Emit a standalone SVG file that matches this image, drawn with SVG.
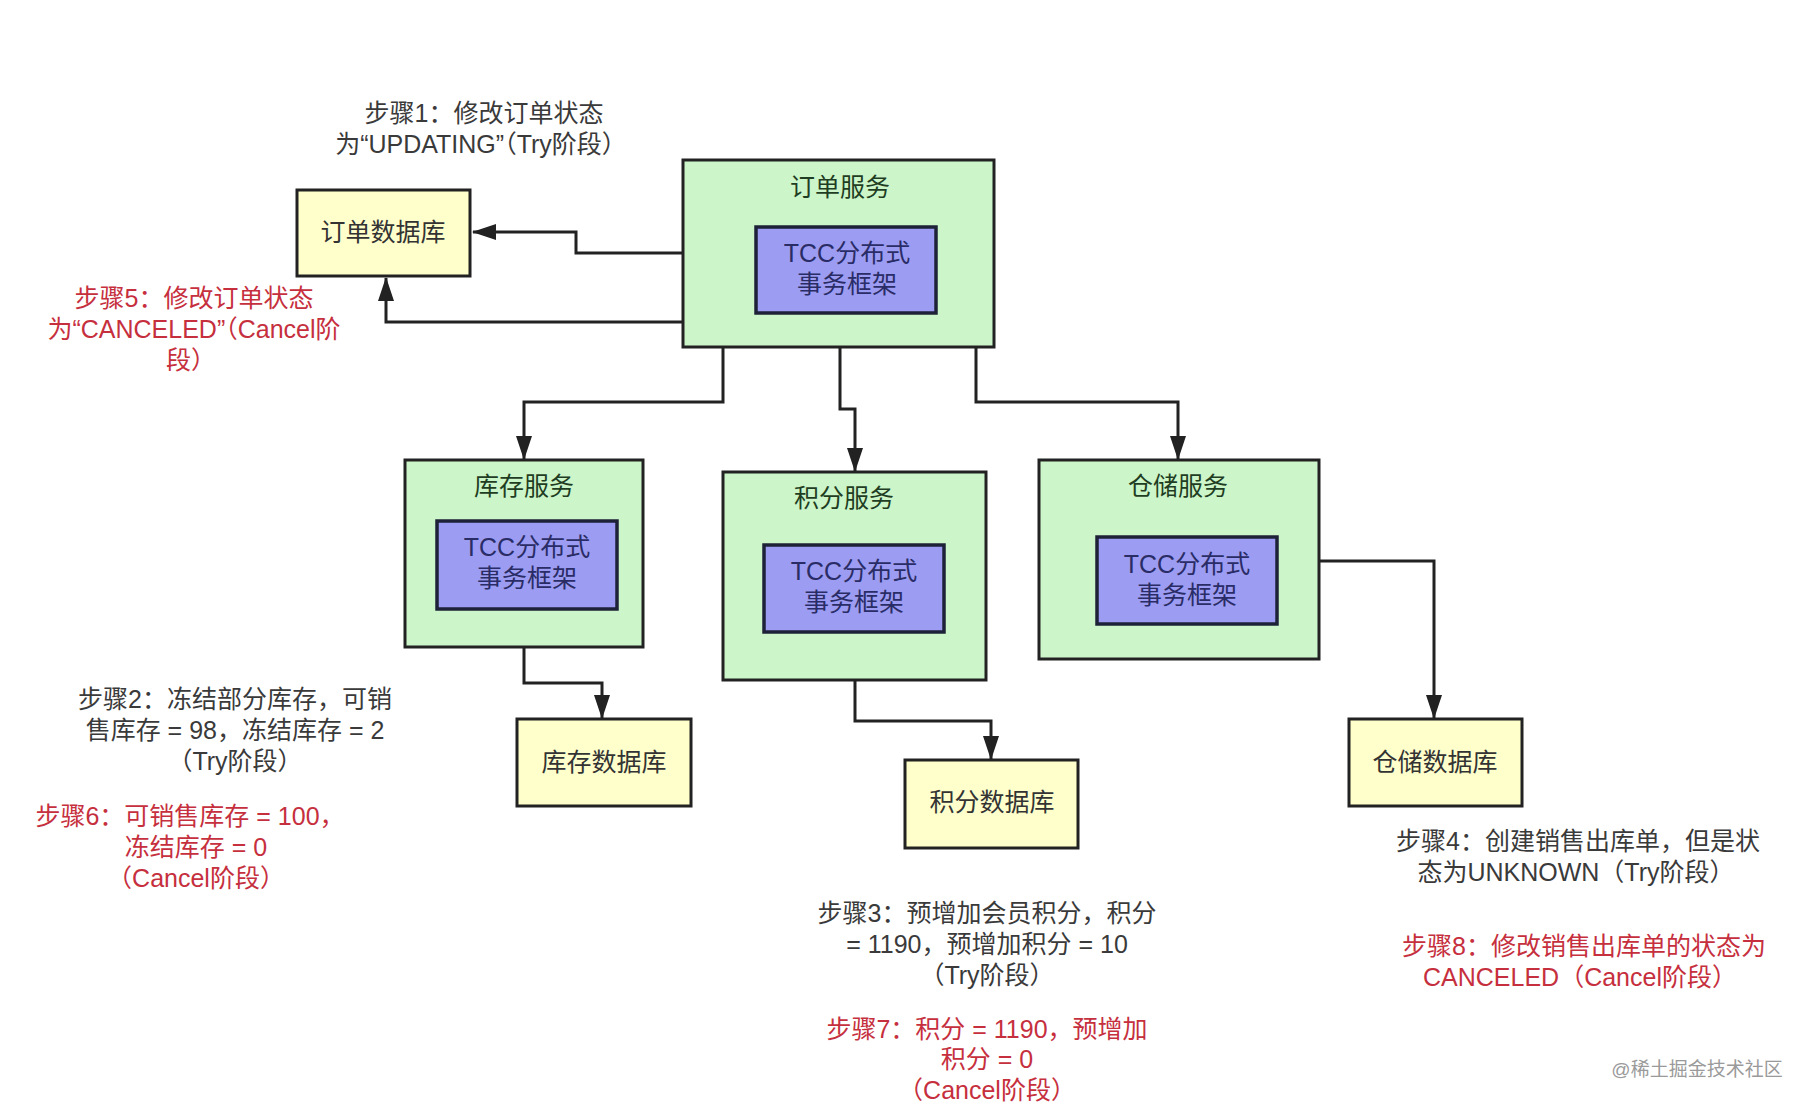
<svg xmlns="http://www.w3.org/2000/svg" width="1806" height="1110" viewBox="0 0 1806 1110">
<defs>
<style>
text{font-family:"Liberation Sans","Noto Sans CJK SC",sans-serif;font-size:25px;text-anchor:middle;dominant-baseline:middle}
.svc{fill:#ccf5c9;stroke:#222;stroke-width:3}
.tcc{fill:#9c9cf2;stroke:#1e2238;stroke-width:3.5}
.db{fill:#ffffcc;stroke:#222;stroke-width:3}
.svt{fill:#1f3d22}
.tct{fill:#2a2c66}
.dbt{fill:#333}
.note{fill:#3a3a3a}
.red{fill:#c62f3d}
.wm{fill:#9a9a9a;font-size:19px}
.conn{fill:none;stroke:#222;stroke-width:3;marker-end:url(#arr)}
</style>
<marker id="arr" markerUnits="userSpaceOnUse" markerWidth="24" markerHeight="16" viewBox="0 0 24 16" refX="23" refY="8" orient="auto">
<path d="M0,0 L24,8 L0,16 Z" fill="#222"/>
</marker>
</defs>
<rect width="1806" height="1110" fill="#fff"/>

<g id="connectors">
<path class="conn" d="M683,253 H576 V232 H473"/>
<path class="conn" d="M683,322 H386 V278"/>
<path class="conn" d="M723,347 V402 H524 V459"/>
<path class="conn" d="M840,347 V409 H855 V471"/>
<path class="conn" d="M976,347 V402 H1178 V459"/>
<path class="conn" d="M524,647 V683 H602 V718"/>
<path class="conn" d="M855,680 V721 H991 V759"/>
<path class="conn" d="M1319,561 H1434 V718"/>
</g>

<g id="order-db">
<rect class="db" x="297" y="190" width="173" height="86"/>
<text class="dbt" x="383" y="234">订单数据库</text>
</g>

<g id="order-svc">
<rect class="svc" x="683" y="160" width="311" height="187"/>
<text class="svt" x="840" y="189">订单服务</text>
<rect class="tcc" x="756" y="227" width="180" height="86"/>
<text class="tct" x="847" y="255">TCC分布式<tspan x="847" dy="31">事务框架</tspan></text>
</g>

<g id="stock-svc">
<rect class="svc" x="405" y="460" width="238" height="187"/>
<text class="svt" x="524" y="488">库存服务</text>
<rect class="tcc" x="437" y="521" width="180" height="88"/>
<text class="tct" x="527" y="549">TCC分布式<tspan x="527" dy="31">事务框架</tspan></text>
</g>

<g id="points-svc">
<rect class="svc" x="723" y="472" width="263" height="208"/>
<text class="svt" x="844" y="500">积分服务</text>
<rect class="tcc" x="764" y="545" width="180" height="87"/>
<text class="tct" x="854" y="573">TCC分布式<tspan x="854" dy="31">事务框架</tspan></text>
</g>

<g id="wms-svc">
<rect class="svc" x="1039" y="460" width="280" height="199"/>
<text class="svt" x="1178" y="488">仓储服务</text>
<rect class="tcc" x="1097" y="537" width="180" height="87"/>
<text class="tct" x="1187" y="566">TCC分布式<tspan x="1187" dy="31">事务框架</tspan></text>
</g>

<g id="stock-db">
<rect class="db" x="517" y="719" width="174" height="87"/>
<text class="dbt" x="604" y="764">库存数据库</text>
</g>

<g id="points-db">
<rect class="db" x="905" y="760" width="173" height="88"/>
<text class="dbt" x="992" y="804">积分数据库</text>
</g>

<g id="wms-db">
<rect class="db" x="1349" y="719" width="173" height="87"/>
<text class="dbt" x="1435" y="764">仓储数据库</text>
</g>

<g id="notes">
<text class="note" x="484" y="115">步骤1：修改订单状态<tspan x="481" dy="31">为“UPDATING”（Try阶段）</tspan></text>

<text class="red" x="194" y="300">步骤5：修改订单状态<tspan x="194" dy="31">为“CANCELED”（Cancel阶</tspan><tspan x="191" dy="31">段）</tspan></text>

<text class="note" x="235" y="701">步骤2：冻结部分库存，可销<tspan x="235" dy="31">售库存 = 98，冻结库存 = 2</tspan><tspan x="235" dy="31">（Try阶段）</tspan></text>

<text class="red" x="190" y="818">步骤6：可销售库存 = 100，<tspan x="196" dy="31">冻结库存 = 0</tspan><tspan x="196" dy="31">（Cancel阶段）</tspan></text>

<text class="note" x="987" y="915">步骤3：预增加会员积分，积分<tspan x="987" dy="31">= 1190，预增加积分 = 10</tspan><tspan x="987" dy="31">（Try阶段）</tspan></text>

<text class="red" x="987" y="1031">步骤7：积分 = 1190，预增加<tspan x="987" dy="30">积分 = 0</tspan><tspan x="987" dy="31">（Cancel阶段）</tspan></text>

<text class="note" x="1578" y="843">步骤4：创建销售出库单，但是状<tspan x="1576" dy="31">态为UNKNOWN（Try阶段）</tspan></text>

<text class="red" x="1584" y="948">步骤8：修改销售出库单的状态为<tspan x="1580" dy="31">CANCELED（Cancel阶段）</tspan></text>

<text class="wm" x="1697" y="1071">@稀土掘金技术社区</text>
</g>
</svg>
